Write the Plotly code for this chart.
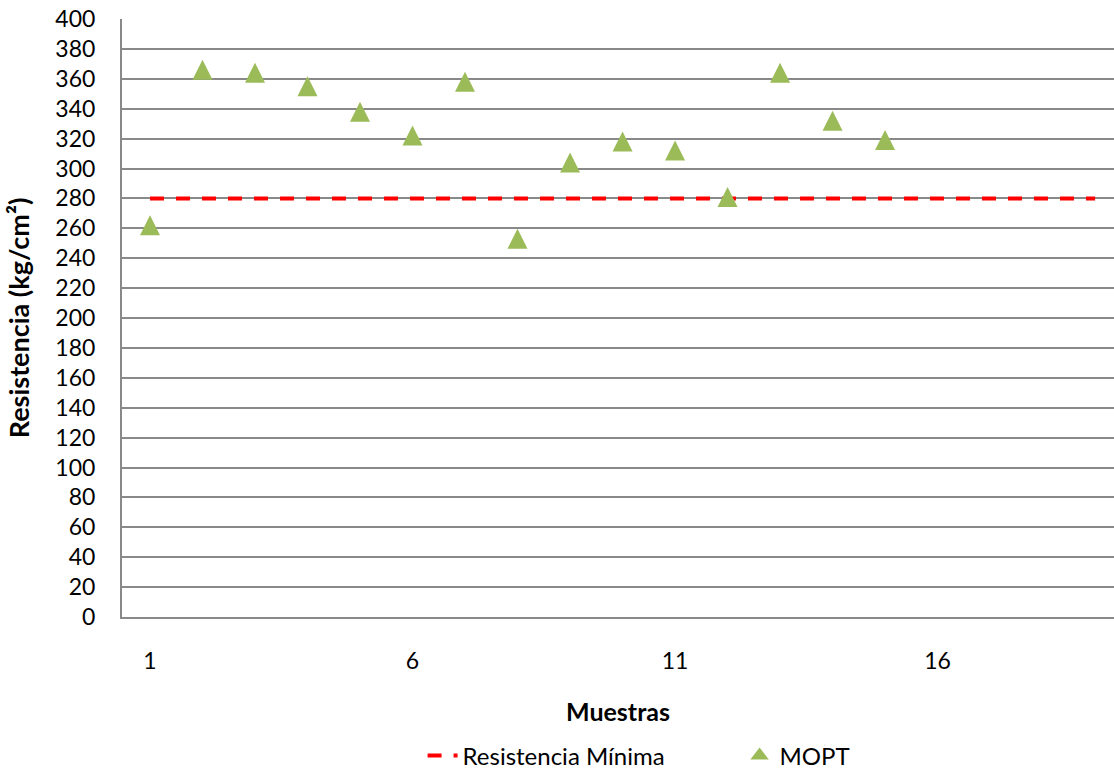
import plotly.graph_objects as go

# Data
muestras = list(range(1, 16))
mopt = [262, 366, 364, 355, 338, 322, 358, 253, 304, 318, 312, 281, 364, 332, 319]
min_x = list(range(1, 20))
min_y = [280] * len(min_x)

y_ticks = list(range(0, 401, 20))
x_ticks = [1, 6, 11, 16]

FONT = "Lato"
GREEN = "#9BBB59"

fig = go.Figure()
fig.add_trace(go.Scatter(
    x=min_x, y=min_y, mode="lines", name="Resistencia Mínima",
    line=dict(color="#FF0000", width=4, dash="14px,12px"),
))
# data markers (tall triangles centred on the value)
fig.add_trace(go.Scatter(
    x=muestras, y=mopt, mode="markers", name="MOPT", showlegend=False,
    legendgroup="mopt",
    marker=dict(symbol="arrow-down", angle=180, standoff=10, size=20,
                color=GREEN, line=dict(width=0)),
))
# legend entry for the markers (no data)
fig.add_trace(go.Scatter(
    x=[None], y=[None], mode="markers", name="MOPT", legendgroup="mopt",
    marker=dict(symbol="triangle-up", size=20, color=GREEN, line=dict(width=0)),
))

fig.update_layout(
    width=1114, height=774,
    margin=dict(l=122, r=0, t=19, b=157, autoexpand=False),
    paper_bgcolor="white", plot_bgcolor="white",
    font=dict(family=FONT, size=23, color="black"),
    showlegend=True,
    legend=dict(orientation="h", x=0.303, xanchor="left",
                yref="paper", y=-0.2324, yanchor="middle",
                font=dict(family=FONT, size=24, color="black"),
                itemwidth=30, entrywidth=272, entrywidthmode="pixels",
                itemsizing="trace"),
    xaxis=dict(
        range=[0.467, 19.36], tickmode="array", tickvals=x_ticks,
        ticktext=[str(v) for v in x_ticks], automargin=False,
        showgrid=False, zeroline=False, showline=True, linecolor="#898989", linewidth=2,
        ticklabelstandoff=22,
        tickfont=dict(family=FONT, size=23),
        title=dict(text="<b>Muestras</b>", font=dict(family=FONT, size=25), standoff=31),
    ),
    yaxis=dict(
        range=[0, 400], tickmode="array", tickvals=y_ticks,
        ticktext=[str(v) for v in y_ticks], automargin=False,
        showgrid=True, gridcolor="#898989", gridwidth=2,
        zeroline=False, showline=True, linecolor="#898989", linewidth=2,
        ticklabelstandoff=20,
        tickfont=dict(family=FONT, size=23),
        title=dict(text="<b>Resistencia (kg/cm²)</b>", font=dict(family=FONT, size=27), standoff=18),
    ),
)

fig.write_html("out.html")
